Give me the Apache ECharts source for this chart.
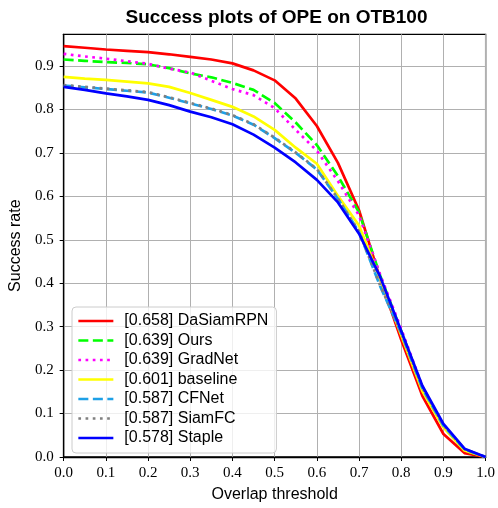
<!DOCTYPE html>
<html>
<head>
<meta charset="utf-8">
<script src="https://cdn.jsdelivr.net/npm/echarts@6/dist/echarts.min.js"></script>
<style>
  html, body { margin: 0; padding: 0; background: #fff; }
  #chart { width: 498px; height: 508px; }
</style>
</head>
<body>
<div id="chart"></div>
<script>
// overlap thresholds 0, 0.05, ... 1.0
const thresholds = [0, 0.05, 0.1, 0.15, 0.2, 0.25, 0.3, 0.35, 0.4, 0.45, 0.5,
  0.55, 0.6, 0.65, 0.7, 0.75, 0.8, 0.85, 0.9, 0.95, 1.0];

const daSiamRPN = [0.946, 0.942, 0.938, 0.935, 0.932, 0.927, 0.921, 0.915, 0.906, 0.890, 0.867,
  0.825, 0.762, 0.677, 0.568, 0.410, 0.270, 0.141, 0.053, 0.009, 0];
const ours = [0.915, 0.912, 0.909, 0.907, 0.904, 0.895, 0.883, 0.874, 0.861, 0.845, 0.815,
  0.770, 0.718, 0.647, 0.563, 0.418, 0.290, 0.160, 0.070, 0.015, 0];
const gradNet = [0.928, 0.922, 0.917, 0.911, 0.905, 0.894, 0.885, 0.866, 0.847, 0.833, 0.803,
  0.753, 0.705, 0.635, 0.556, 0.420, 0.295, 0.163, 0.072, 0.016, 0];
const baseline = [0.875, 0.871, 0.868, 0.864, 0.860, 0.852, 0.838, 0.822, 0.806, 0.784, 0.753,
  0.712, 0.675, 0.601, 0.533, 0.410, 0.280, 0.152, 0.068, 0.015, 0];
const cfNet = [0.855, 0.851, 0.847, 0.843, 0.839, 0.827, 0.814, 0.801, 0.786, 0.765, 0.734,
  0.700, 0.662, 0.594, 0.518, 0.393, 0.285, 0.158, 0.072, 0.018, 0];
const siamFC = [0.856, 0.852, 0.848, 0.844, 0.840, 0.828, 0.815, 0.802, 0.787, 0.766, 0.735,
  0.701, 0.663, 0.595, 0.519, 0.395, 0.286, 0.159, 0.073, 0.018, 0];
const staple = [0.852, 0.845, 0.837, 0.830, 0.822, 0.810, 0.795, 0.782, 0.766, 0.742, 0.712,
  0.678, 0.638, 0.586, 0.514, 0.415, 0.290, 0.164, 0.076, 0.019, 0];

const yTicks = [0, 0.1, 0.2, 0.3, 0.4, 0.5, 0.6, 0.7, 0.8, 0.9];

const trackers = [
  { name: "[0.658] DaSiamRPN", data: daSiamRPN, color: "#ff0000", type: "solid" },
  { name: "[0.639] Ours", data: ours, color: "#00ff00", type: [10, 4.5] },
  { name: "[0.639] GradNet", data: gradNet, color: "#ff00ff", type: [2.7, 4.5] },
  { name: "[0.601] baseline", data: baseline, color: "#ffff00", type: "solid" },
  { name: "[0.587] CFNet", data: cfNet, color: "#1ea0e6", type: [10, 4.5] },
  { name: "[0.587] SiamFC", data: siamFC, color: "#808080", type: [2.7, 4.5] },
  { name: "[0.578] Staple", data: staple, color: "#0000ff", type: "solid" },
];

const chart = echarts.init(document.getElementById("chart"));

const option = {
  animation: false,
  title: {
    text: "Success plots of OPE on OTB100",
    left: 276.5,
    top: 8,
    textAlign: "center",
    padding: 0,
    textStyle: {
      fontFamily: "Liberation Sans",
      fontWeight: "bold",
      fontSize: 19,
      color: "#000",
    },
  },
  legend: {
    orient: "vertical",
    left: 72,
    top: 307,
    padding: [6, 8, 7, 5],
    itemWidth: 35,
    itemHeight: 14,
    itemGap: 3.5,
    backgroundColor: "rgba(255,255,255,0.8)",
    borderColor: "#cccccc",
    borderWidth: 1,
    borderRadius: 4,
    itemStyle: { opacity: 0 },
    lineStyle: { width: 2.7 },
    textStyle: {
      fontFamily: "Liberation Sans",
      fontSize: 16,
      color: "#000",
      padding: [0, 0, 0, 6],
    },
    data: trackers.map((t) => t.name),
  },
  grid: {
    left: 63.3,
    right: 8,
    top: 34.3,
    bottom: 48,
    show: true,
    borderColor: "#000",
    borderWidth: 1.3,
    backgroundColor: "transparent",
  },
  xAxis: {
    type: "value",
    min: 0,
    max: 1,
    interval: 0.1,
    name: "Overlap threshold",
    nameLocation: "middle",
    nameGap: 30,
    nameTextStyle: { fontFamily: "Liberation Sans", fontSize: 16, color: "#000" },
    axisLine: { lineStyle: { color: "#000", width: 1.3 } },
    axisTick: { show: true, inside: false, length: 4, lineStyle: { color: "#000" } },
    axisLabel: {
      margin: 9,
      fontFamily: "Liberation Serif",
      fontSize: 15,
      color: "#000",
      formatter: (v) => v.toFixed(1),
    },
    splitLine: { show: true, lineStyle: { color: "#b0b0b0", width: 1 } },
  },
  yAxis: {
    type: "value",
    min: 0,
    max: 0.973,
    name: "Success rate",
    nameLocation: "middle",
    nameGap: 31,
    nameTextStyle: { fontFamily: "Liberation Sans", fontSize: 16, color: "#000" },
    axisLine: { show: true, lineStyle: { color: "#000", width: 1.3 } },
    axisTick: {
      show: true,
      inside: false,
      length: 4,
      lineStyle: { color: "#000" },
      customValues: yTicks,
    },
    axisLabel: {
      margin: 10,
      fontFamily: "Liberation Serif",
      fontSize: 15,
      color: "#000",
      customValues: yTicks,
      formatter: (v) => v.toFixed(1),
    },
    splitLine: { show: true, lineStyle: { color: "#b0b0b0", width: 1 } },
  },
  series: trackers.map((t) => ({
    name: t.name,
    type: "line",
    data: thresholds.map((x, i) => [x, t.data[i]]),
    symbol: "none",
    smooth: false,
    color: t.color,
    lineStyle: { color: t.color, width: 2.7, type: t.type },
  })),
};

chart.setOption(option);
</script>
</body>
</html>
